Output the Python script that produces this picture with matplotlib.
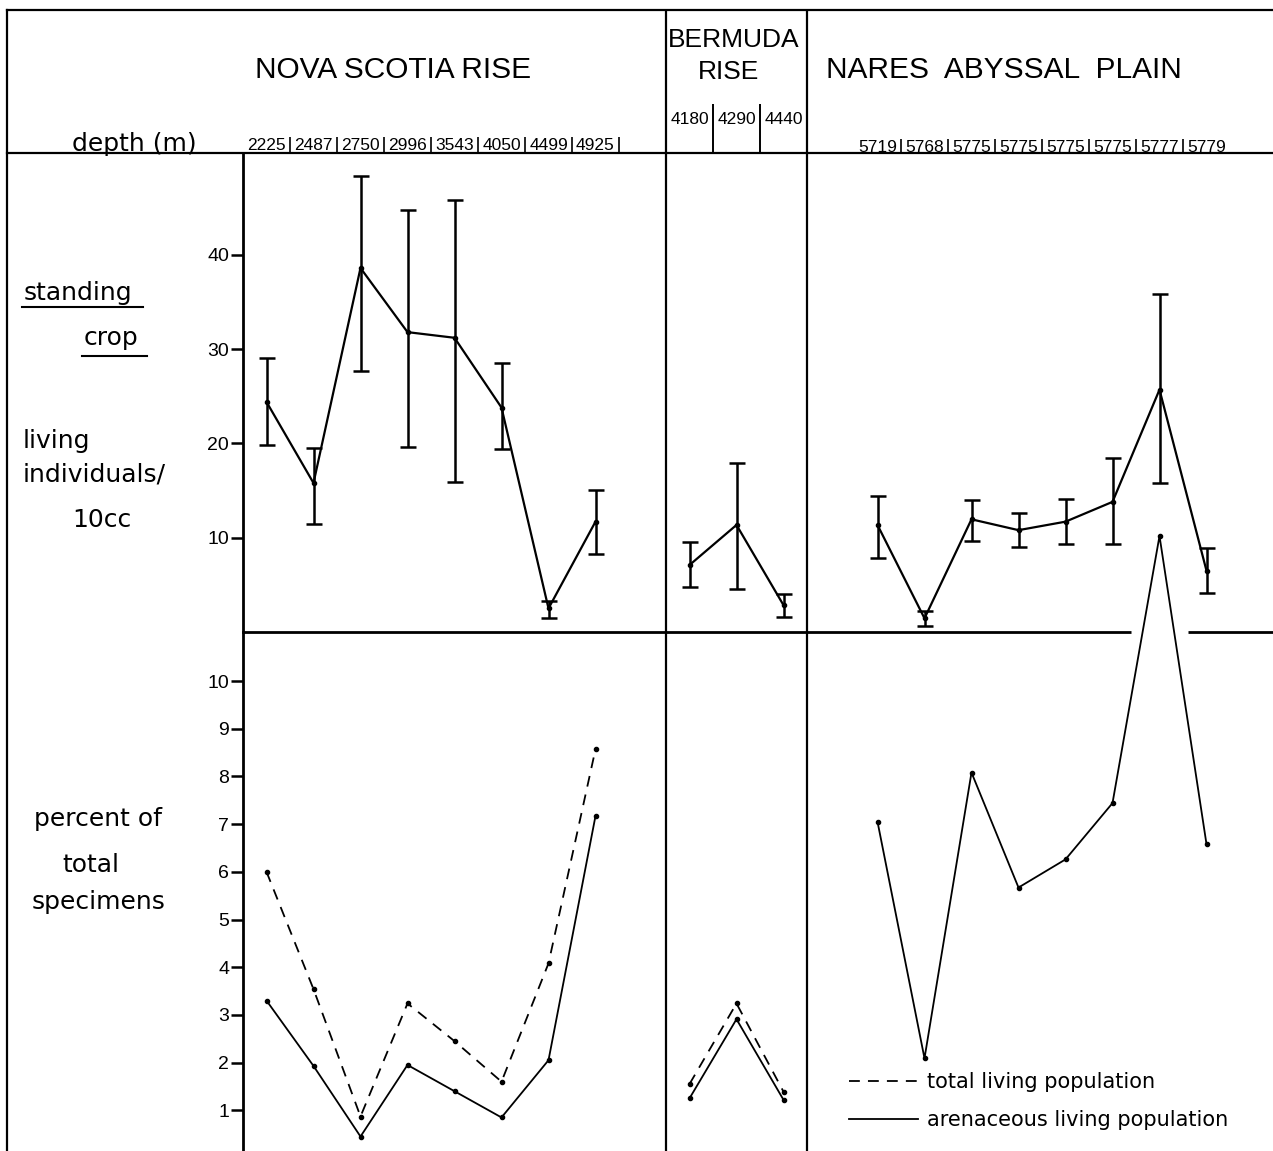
import numpy as np
import matplotlib.pyplot as plt

plt.rcParams['font.family'] = ['Liberation Sans', 'DejaVu Sans']

W, H = 1273, 1151

# x slots (one per station), the three regions share one axis
ns_pos = [0, 1, 2, 3, 4, 5, 6, 7]
bd_pos = [9, 10, 11]
nr_pos = [13, 14, 15, 16, 17, 18, 19, 20]

ns_depth = ["2225", "2487", "2750", "2996", "3543", "4050", "4499", "4925"]
bd_depth = ["4180", "4290", "4440"]
nr_depth = ["5719", "5768", "5775", "5775", "5775", "5775", "5777", "5779"]

# standing crop (living individuals / 10cc) with range bars
ns_crop = [24.4, 15.8, 38.6, 31.8, 31.2, 23.8, 2.5, 11.7]
ns_crop_hi = [29.1, 19.5, 48.4, 44.7, 45.8, 28.5, 3.3, 15.1]
ns_crop_lo = [19.8, 11.5, 27.7, 19.6, 15.9, 19.4, 1.45, 8.3]
bd_crop = [7.1, 11.35, 2.85]
bd_crop_hi = [9.5, 17.9, 4.0]
bd_crop_lo = [4.8, 4.55, 1.6]
nr_crop = [11.35, 1.45, 11.95, 10.8, 11.7, 13.8, 25.7, 6.5]
nr_crop_hi = [14.4, 2.25, 14.0, 12.6, 14.1, 18.4, 35.8, 8.9]
nr_crop_lo = [7.9, 0.65, 9.7, 9.05, 9.3, 9.3, 15.8, 4.1]

# percent of total specimens
ns_total = [6.0, 3.54, 0.87, 3.24, 2.45, 1.6, 4.08, 8.57]
ns_aren = [3.3, 1.93, 0.45, 1.95, 1.4, 0.85, 2.05, 7.17]
bd_total = [1.55, 3.24, 1.39]
bd_aren = [1.25, 2.91, 1.22]
nr_aren = [7.05, 2.09, 8.08, 5.67, 6.26, 7.44, 13.04, 6.58]

fig = plt.figure(figsize=(W / 100, H / 100), dpi=100)

# background axes in pixel units for frame and side labels
bg = fig.add_axes([0, 0, 1, 1])
bg.set_xlim(0, W)
bg.set_ylim(H, 0)
bg.axis('off')

lw = 1.6
bg.plot([7, W], [10, 10], color='k', lw=lw)
bg.plot([7, 7], [10, H], color='k', lw=lw)
bg.plot([7, W], [153, 153], color='k', lw=lw)

fs_title = 21.5
bg.text(393, 70, "NOVA SCOTIA RISE", ha='center', va='center', fontsize=fs_title)
bg.text(734, 40, "BERMUDA", ha='center', va='center', fontsize=19)
bg.text(729, 72, "RISE", ha='center', va='center', fontsize=19)
bg.text(1004, 70, "NARES  ABYSSAL  PLAIN", ha='center', va='center', fontsize=fs_title)

side = dict(ha='left', va='baseline', fontsize=18, family='DejaVu Sans')
bg.text(72, 151, "depth (m)", **side)
bg.text(24, 300, "standing", **side)
bg.plot([22, 143], [307, 307], color='k', lw=1.5)
bg.text(84, 345, "crop", **side)
bg.plot([82, 147], [356, 356], color='k', lw=1.5)
bg.text(23, 448, "living", **side)
bg.text(23, 481, "individuals/", **side)
bg.text(72, 527, "10cc", **side)
bg.text(34, 826, "percent of", **side)
bg.text(62, 872, "total", **side)
bg.text(32, 909, "specimens", **side)

px_per_slot = 47.0
x0 = -0.5
x1 = x0 + (W - 243) / px_per_slot
left = 243 / W
width = (W - 243) / W

# header axes with the depth labels
hdr = fig.add_axes([left, 1 - 153 / H, width, (153 - 10) / H])
hdr.set_xlim(x0, x1)
hdr.set_ylim(153, 10)
hdr.axis('off')
fs_d = 12.5
for p, d in zip(ns_pos, ns_depth):
    hdr.text(p, 145, d, ha='center', va='center', fontsize=fs_d)
    hdr.vlines(p + 0.5, 137, 153, color='k', lw=1.2)
for p, d in zip(bd_pos, bd_depth):
    hdr.text(p, 120, d, ha='center', va='center', fontsize=fs_d)
for p in bd_pos[:-1]:
    hdr.vlines(p + 0.5, 104, 153, color='k', lw=1.4)
for p, d in zip(nr_pos, nr_depth):
    hdr.text(p, 147, d, ha='center', va='center', fontsize=fs_d)
for p in nr_pos[:-1]:
    hdr.vlines(p + 0.5, 139, 153, color='k', lw=1.2)
for sep in (8.5, 11.5):
    hdr.axvline(sep, color='k', lw=lw)

# upper panel: standing crop
up = fig.add_axes([left, 1 - 632 / H, width, (632 - 153) / H])
up.set_facecolor('none')
up.set_xlim(x0, x1)
up.set_ylim(0, (632 - 153) / 9.43)
for s in ('top', 'right', 'bottom'):
    up.spines[s].set_visible(False)
up.spines['left'].set_linewidth(2)
up.set_xticks([])
up.set_yticks([10, 20, 30, 40])
up.tick_params(axis='y', direction='out', length=9, width=1.8, labelsize=14, pad=1)
for sep in (8.5, 11.5):
    up.axvline(sep, color='k', lw=lw)
up.hlines(0, x0, 18.4, color='k', lw=2, clip_on=False)
up.hlines(0, 19.6, x1, color='k', lw=2, clip_on=False)

for pos, y, hi, lo_ in [(ns_pos, ns_crop, ns_crop_hi, ns_crop_lo),
                        (bd_pos, bd_crop, bd_crop_hi, bd_crop_lo),
                        (nr_pos, nr_crop, nr_crop_hi, nr_crop_lo)]:
    y = np.array(y)
    yerr = [y - np.array(lo_), np.array(hi) - y]
    up.errorbar(pos, y, yerr=yerr, color='k', lw=1.6, marker='o', ms=3,
                elinewidth=1.8, capsize=6, capthick=1.8)

# lower panel: percent of total specimens
lo = fig.add_axes([left, 0, width, (1151 - 632) / H])
lo.set_facecolor('none')
lo.set_xlim(x0, x1)
lo.set_ylim((1158 - 1151) / 47.7, (1158 - 632) / 47.7)
for s in ('top', 'right', 'bottom'):
    lo.spines[s].set_visible(False)
lo.spines['left'].set_linewidth(2)
lo.set_xticks([])
lo.set_yticks(range(1, 11))
lo.tick_params(axis='y', direction='out', length=9, width=1.8, labelsize=14, pad=1)
for sep in (8.5, 11.5):
    lo.axvline(sep, color='k', lw=lw)

dash = (0, (6, 4.5))
h_tot, = lo.plot(ns_pos, ns_total, color='k', lw=1.3, ls=dash, marker='o', ms=3)
h_are, = lo.plot(ns_pos, ns_aren, color='k', lw=1.3, marker='o', ms=3)
lo.plot(bd_pos, bd_total, color='k', lw=1.3, ls=dash, marker='o', ms=3)
lo.plot(bd_pos, bd_aren, color='k', lw=1.3, marker='o', ms=3)
lo.plot(nr_pos, nr_aren, color='k', lw=1.3, marker='o', ms=3, clip_on=False)

leg = lo.legend([h_tot, h_are], ["total living population", "arenaceous living population"],
                loc='lower left', bbox_to_anchor=(849 / W, (H - 1130) / H),
                bbox_transform=fig.transFigure, frameon=False,
                prop={'family': 'DejaVu Sans', 'size': 15},
                handlelength=3.3, handletextpad=0.45, labelspacing=0.85,
                borderpad=0, borderaxespad=0)
for line in leg.get_lines():
    line.set_marker('')

fig.savefig("out.png", dpi=100)
